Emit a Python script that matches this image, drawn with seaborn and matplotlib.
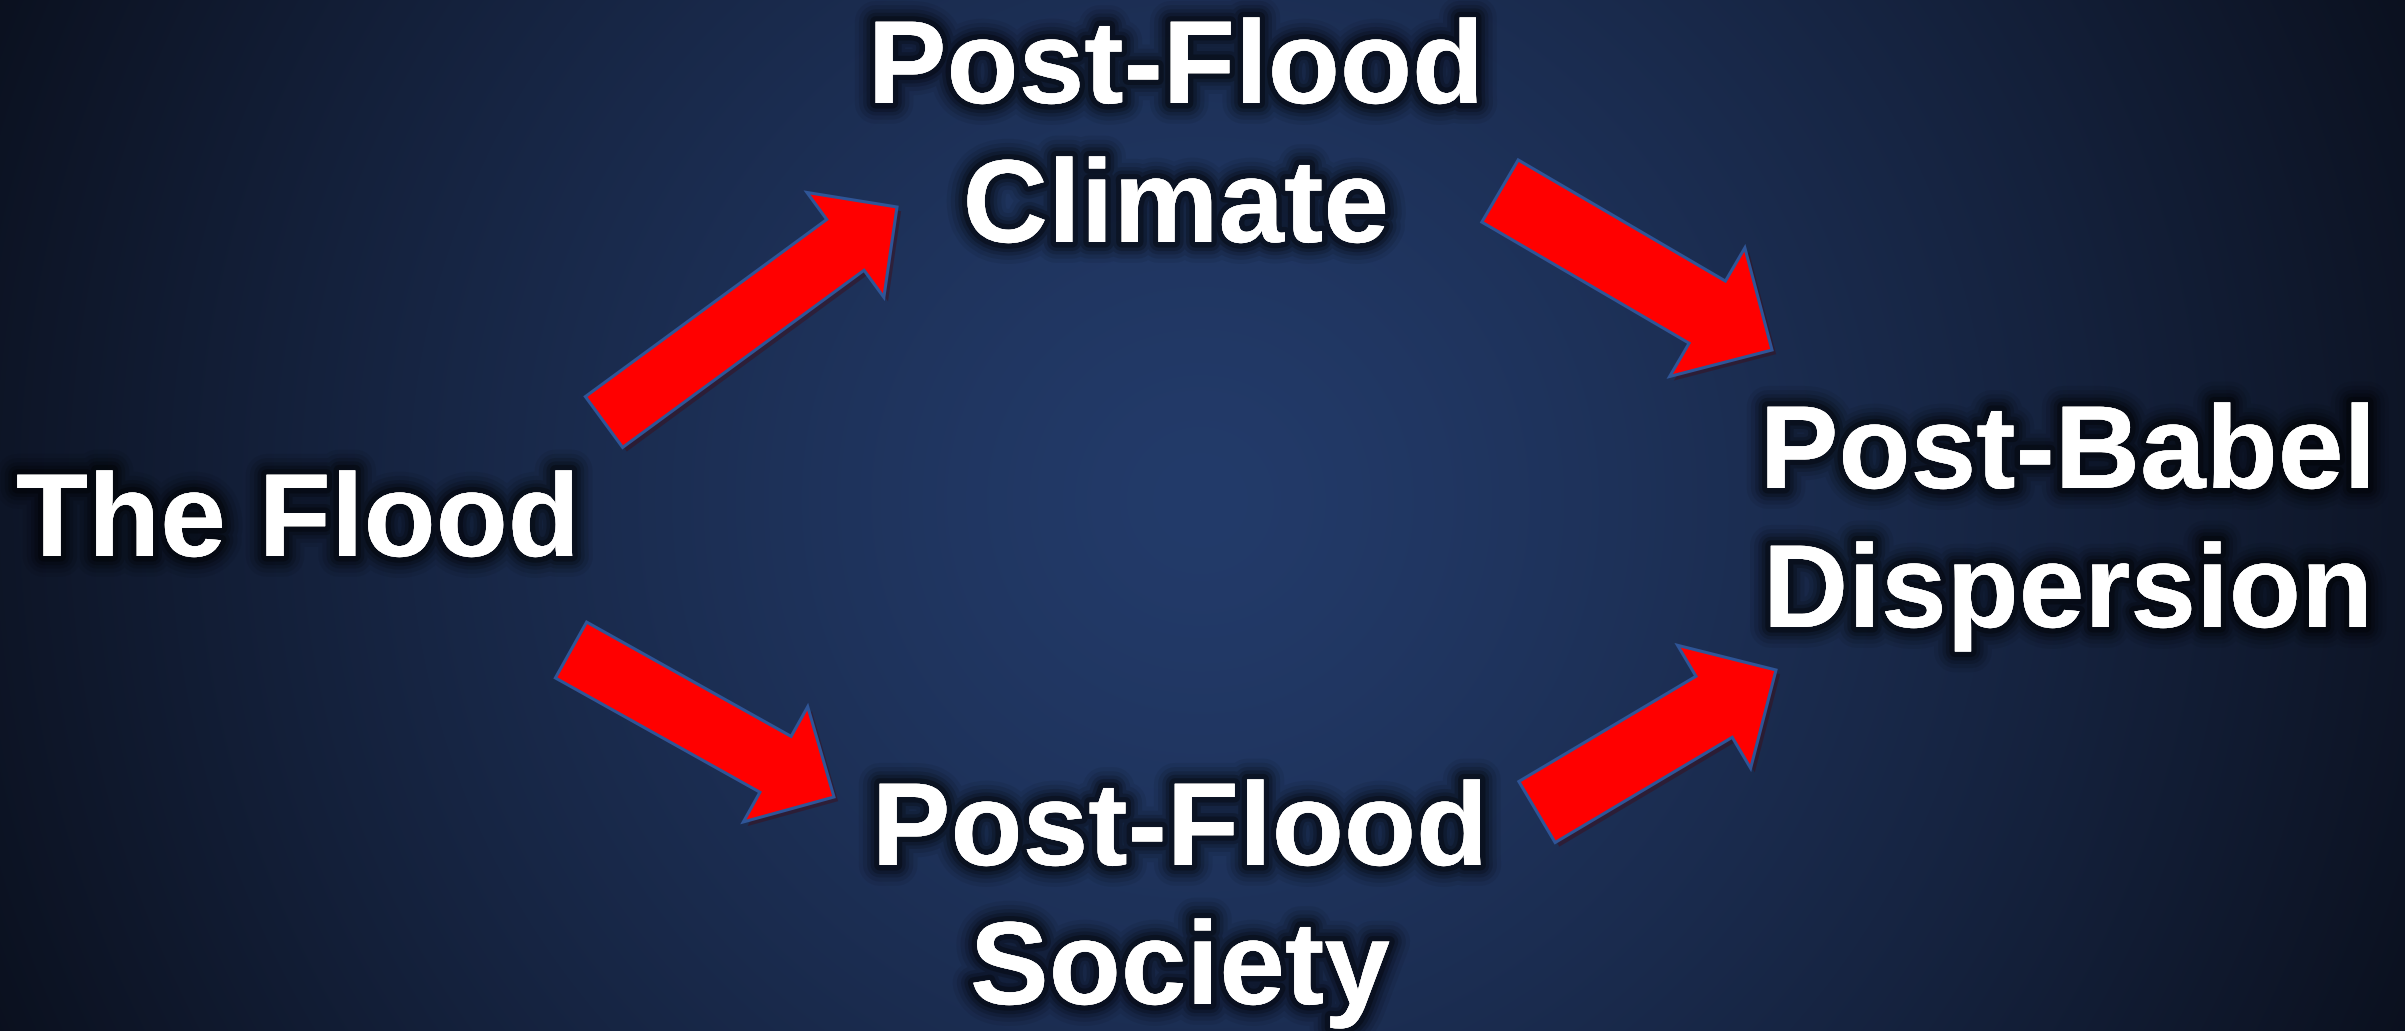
import numpy as np
import matplotlib
matplotlib.use("Agg")
import matplotlib.pyplot as plt
import matplotlib.patheffects as pe
from matplotlib.patches import FancyArrow
import seaborn as sns

# Diagram content
node_names = ["flood", "climate", "society", "babel"]
node_lines = [["The Flood"],
              ["Post-Flood", "Climate"],
              ["Post-Flood", "Society"],
              ["Post-Babel", "Dispersion"]]
edges = [("flood", "climate"), ("climate", "babel"),
         ("flood", "society"), ("society", "babel")]

# Layout (pixels, y down): centre x and first baseline of each label
W, H = 2405, 1031
label_pos = {"flood": (298, 556), "climate": (1176, 103),
             "society": (1180, 865), "babel": (2068, 488)}
line_step = 139
# arrow geometry: tail, tip, shaft width, head width, head length
arrow_geom = {("flood", "climate"): ((604, 422), (897, 207), 63, 130, 64),
              ("climate", "babel"): ((1500, 191), (1772, 350), 72, 149, 75),
              ("flood", "society"): ((571, 650), (834, 797), 64, 132, 67),
              ("society", "babel"): ((1537, 812), (1776, 670), 71, 143, 72)}

sns.set_theme(style="white")
plt.rcParams['font.family'] = ['Liberation Sans', 'DejaVu Sans']

fig = plt.figure(figsize=(W / 100, H / 100), dpi=100)
ax = fig.add_axes([0, 0, 1, 1])
ax.set_xlim(0, W)
ax.set_ylim(H, 0)
ax.axis("off")

# radial background gradient
yy, xx = np.mgrid[0:H, 0:W]
d = np.sqrt((xx - 1200) ** 2 + (yy - 500) ** 2) / 1350
t = np.clip(d, 0, 1) ** 1.3
c_in = np.array([0x23, 0x3b, 0x6a]) / 255
c_out = np.array([0x0a, 0x0f, 0x1c]) / 255
bg = c_in[None, None, :] * (1 - t[..., None]) + c_out[None, None, :] * t[..., None]
ax.imshow(bg, extent=[0, W, H, 0], aspect="auto", zorder=0)

# arrows
for e in edges:
    (x0, y0), (x1, y1), w, hw, hl = arrow_geom[e]
    arr = FancyArrow(x0, y0, x1 - x0, y1 - y0, width=w, head_width=hw,
                     head_length=hl, length_includes_head=True,
                     facecolor="#ff0000", edgecolor="#2f5597", linewidth=2.2,
                     zorder=3)
    arr.set_path_effects([pe.SimplePatchShadow(offset=(3, -3), alpha=0.35),
                          pe.Normal()])
    ax.add_patch(arr)

# labels with soft dark glow
glow = [pe.withStroke(linewidth=lw, foreground="black", alpha=a)
        for lw, a in [(30, 0.07), (24, 0.1), (18, 0.14), (13, 0.2), (8, 0.3)]]
glow.append(pe.Normal())
for name, lines in zip(node_names, node_lines):
    cx, by = label_pos[name]
    for i, txt in enumerate(lines):
        ax.text(cx, by + i * line_step, txt, ha="center", va="baseline",
                fontsize=85, fontweight="bold", color="white",
                path_effects=glow, zorder=5)

fig.savefig("out.png", dpi=100)
